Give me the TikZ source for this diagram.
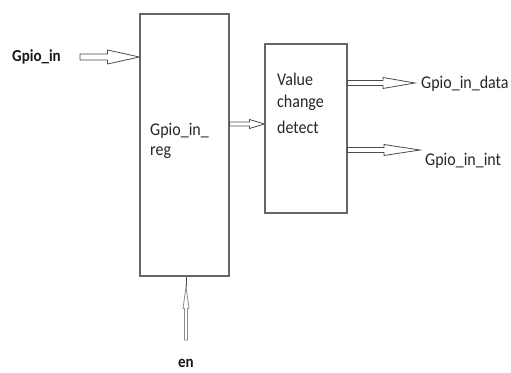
\documentclass[tikz,border=0pt]{standalone}
\usepackage{fontspec}
\setmainfont{Carlito}
\usetikzlibrary{calc}
% text set slightly taller than its natural shape
\newcommand{\tall}[1]{\scalebox{1}[1.12]{#1}}
\tikzset{
  block/.style={draw=black!60, line width=1.1pt, fill=white, inner sep=0pt},
  lbl/.style={inner sep=0pt, font=\fontsize{16}{24}\selectfont, text=black!85},
  blbl/.style={inner sep=0pt, font=\fontsize{15}{24}\selectfont\bfseries, text=black!90},
  hollow/.style={draw=black!70, line width=0.8pt, fill=white, line join=miter},
  thinhollow/.style={draw=black!45, line width=0.8pt, fill=white}
}
% horizontal outline arrow from #1 to #2: shaft half-width #3, head half-width #4, head length #5
\newcommand{\hollowarrow}[5]{%
  \path[hollow] let \p1=(#1), \p2=(#2) in
    (\x1,\y1+#3) -- (\x2-#5,\y1+#3) -- (\x2-#5,\y1+#4) -- (\x2,\y1)
    -- (\x2-#5,\y1-#4) -- (\x2-#5,\y1-#3) -- (\x1,\y1-#3) -- cycle;}
\begin{document}
\begin{tikzpicture}[x=1pt, y=-1pt]
\useasboundingbox (0,0) rectangle (511,372);

% blocks
\node[block, minimum width=89pt, minimum height=262pt] (reg) at (184.5,145) {};
\node[block, minimum width=82pt, minimum height=169pt] (vcd) at (306,128.5) {};

% block captions
\node[lbl, anchor=west] (regtxt1) at (150,131) {\tall{Gpio\_in\_}};
\node[lbl, anchor=west] (regtxt2) at (150,153) {\tall{reg}};
\node[lbl, anchor=west] (vcdtxt1) at (277,79) {\tall{Value}};
\node[lbl, anchor=west] (vcdtxt2) at (277,103) {\tall{change}};
\node[lbl, anchor=west] (vcdtxt3) at (277,127) {\tall{detect}};

% port labels
\node[blbl, anchor=west] (gin) at (12,57) {\tall{Gpio\_in}};
\node[lbl, anchor=west] (gdata) at (421,84) {\tall{Gpio\_in\_data}};
\node[lbl, anchor=west] (gint) at (425,161) {\tall{Gpio\_in\_int}};
\node[blbl] (en) at (186,363) {\tall{en}};

% connection points
\coordinate (ginS) at (80,57);
\coordinate (ginE) at (reg.west |- ginS);
\coordinate (midS) at (reg.east |- 0,124);
\coordinate (midE) at (vcd.west |- midS);
\coordinate (datS) at (vcd.east |- 0,83);
\coordinate (datE) at (415,83);
\coordinate (intS) at (vcd.east |- 0,150);
\coordinate (intE) at (420,150);
\coordinate (enS) at (186,340);
\coordinate (enE) at (reg.south -| enS);

% connectors
\hollowarrow{ginS}{ginE}{3pt}{7pt}{32pt}
\hollowarrow{midS}{midE}{2pt}{4.5pt}{15pt}
\hollowarrow{datS}{datE}{2.5pt}{5.5pt}{32pt}
\hollowarrow{intS}{intE}{2.5pt}{5.5pt}{36pt}

% enable input
\draw[black!70, line width=0.9pt] (enE) -- ($(enE)+(0,10)$);
\path[thinhollow] let \p1=(enS), \p2=(enE) in
  (\x1-1.5,\y1) -- (\x1-1.5,\y2-32) -- (\x1-3,\y2-32) -- (\x1,\y2-10)
  -- (\x1+3,\y2-32) -- (\x1+1.5,\y2-32) -- (\x1+1.5,\y1) -- cycle;
\end{tikzpicture}
\end{document}
